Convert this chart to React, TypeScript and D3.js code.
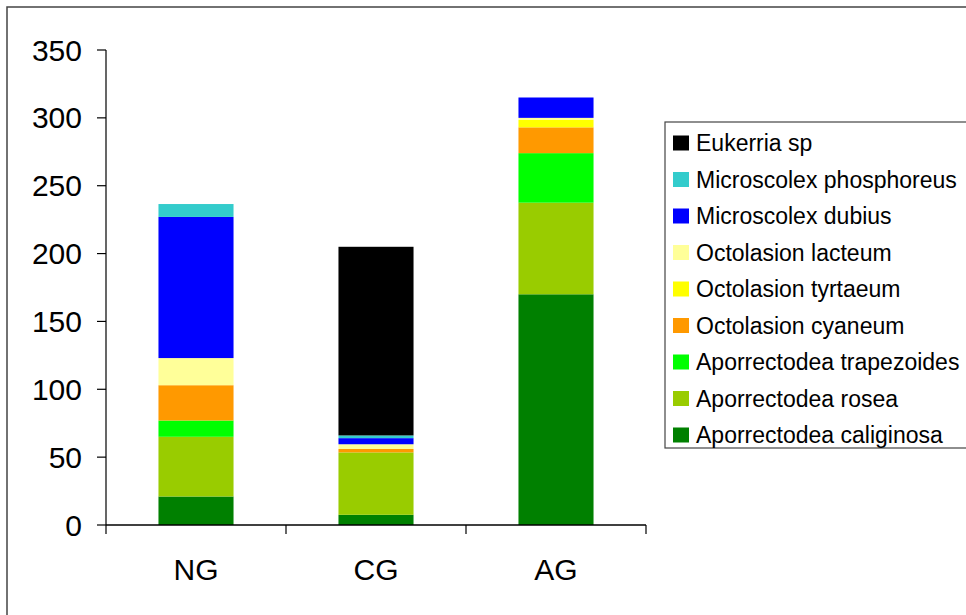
import React from "react";
import * as d3 from "d3";

const categories = ["NG", "CG", "AG"];
const seriesNames = [
  "Aporrectodea caliginosa",
  "Aporrectodea rosea",
  "Aporrectodea trapezoides",
  "Octolasion cyaneum",
  "Octolasion tyrtaeum",
  "Octolasion lacteum",
  "Microscolex dubius",
  "Microscolex phosphoreus",
  "Eukerria sp",
];
const seriesColors = [
  "#008000",
  "#99CC00",
  "#00FF00",
  "#FF9900",
  "#FFFF00",
  "#FFFF99",
  "#0000FF",
  "#33CCCC",
  "#000000",
];
// values per category, in seriesNames order
const caliginosa = [21, 7.5, 170];
const rosea = [44, 46, 67.5];
const trapezoides = [12, 0, 36.5];
const cyaneum = [26, 2.5, 19];
const tyrtaeum = [0, 0, 5.5];
const lacteum = [20, 3.5, 1.5];
const dubius = [104, 4.5, 15];
const phosphoreus = [9.5, 2, 0];
const eukerria = [0, 139, 0];
const yTicks = [0, 50, 100, 150, 200, 250, 300, 350];

const seriesValues = [caliginosa, rosea, trapezoides, cyaneum, tyrtaeum, lacteum, dubius, phosphoreus, eukerria];

export default function App() {
  const W = 966, H = 615;
  const table = categories.map((c, i) => {
    const row: any = { cat: c };
    seriesNames.forEach((s, j) => (row[s] = seriesValues[j][i]));
    return row;
  });
  const stacked = d3.stack().keys(seriesNames)(table);
  const x = d3.scaleBand().domain(categories).range([106, 646]).paddingInner(0.583).paddingOuter(0.2915);
  const y = d3.scaleLinear().domain([0, 350]).range([525, 50]);
  const font = "'Liberation Sans', Arial, sans-serif";
  const legendOrder = seriesNames.map((n, i) => i).reverse();
  const step = x.step();
  const boundaries = [0, 1, 2, 3].map((i) => 106 + i * step);

  return (
    <svg width={W} height={H} style={{ position: "absolute", left: 0, top: 0, background: "#fff" }} fontFamily={font}>
      <rect x={7} y={7} width={W + 10} height={H + 10} fill="#fff" stroke="#444" strokeWidth={1.5} />
      {stacked.map((layer, j) => (
        <g key={j} fill={seriesColors[j]}>
          {layer.map((d, i) =>
            d[1] - d[0] > 0 ? (
              <rect key={i} x={x(categories[i])} width={x.bandwidth()} y={y(d[1])} height={y(d[0]) - y(d[1])} />
            ) : null
          )}
        </g>
      ))}
      {/* y axis */}
      <line x1={106} x2={106} y1={y(350)} y2={y(0)} stroke="#000" strokeWidth={1.2} />
      {yTicks.map((t) => (
        <g key={t}>
          <line x1={97} x2={106} y1={y(t)} y2={y(t)} stroke="#000" strokeWidth={1.2} />
          <text x={82} y={y(t)} dy="0.35em" textAnchor="end" fontSize={30} fill="#000">
            {t}
          </text>
        </g>
      ))}
      {/* x axis */}
      <line x1={106} x2={646} y1={y(0)} y2={y(0)} stroke="#000" strokeWidth={1.5} />
      {boundaries.map((b, i) => (
        <line key={i} x1={b} x2={b} y1={y(0)} y2={y(0) + 9} stroke="#000" strokeWidth={1.2} />
      ))}
      {categories.map((c) => (
        <text key={c} x={(x(c) as number) + x.bandwidth() / 2} y={580} textAnchor="middle" fontSize={30} fill="#000">
          {c}
        </text>
      ))}
      {/* legend */}
      <rect x={665} y={122} width={320} height={326} fill="#fff" stroke="#444" strokeWidth={1.2} />
      {legendOrder.map((j, k) => {
        const cy = 143 + k * 36.5;
        return (
          <g key={j}>
            <rect x={673} y={cy - 7.5} width={16} height={15} fill={seriesColors[j]} />
            <text x={696} y={cy} dy="0.35em" fontSize={23} fill="#000">
              {seriesNames[j]}
            </text>
          </g>
        );
      })}
    </svg>
  );
}
